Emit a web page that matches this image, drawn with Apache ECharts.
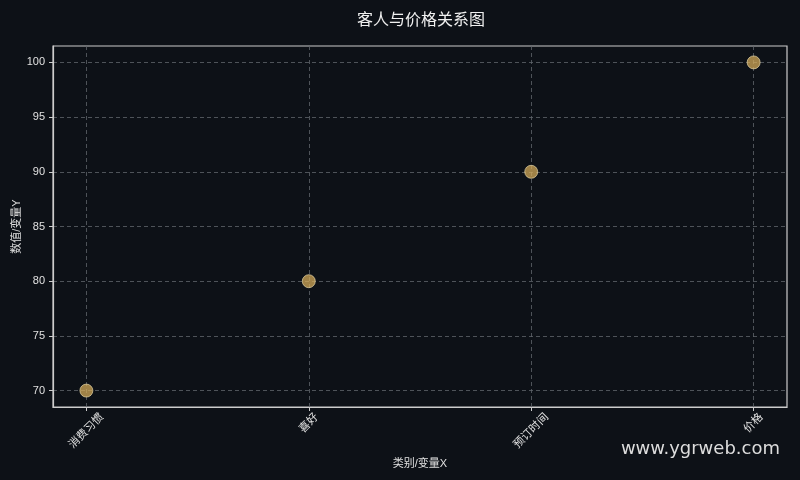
<!DOCTYPE html>
<html>
<head>
<meta charset="utf-8">
<script src="https://cdn.jsdelivr.net/npm/echarts@6/dist/echarts.min.js"></script>
<style>
  html, body { margin: 0; padding: 0; background: #0d1117; }
  #chart { width: 800px; height: 480px; }
</style>
</head>
<body>
<div id="chart"></div>
<script>
var categories = ['消费习惯', '喜好', '预订时间', '价格'];
var values = [70, 80, 90, 100];
var yTicks = [70, 75, 80, 85, 90, 95, 100];

var myChart = echarts.init(document.getElementById('chart'));
var font = '"Liberation Sans", "Noto Sans CJK SC", sans-serif';

var points = [];
for (var i = 0; i < values.length; i++) {
    points.push([i, values[i]]);
}

var option = {
    backgroundColor: '#0d1117',
    animation: false,
    title: {
        text: '客人与价格关系图',
        left: 416,
        top: 8,
        textAlign: 'center',
        textStyle: { color: '#f0f0f0', fontSize: 16, fontWeight: 'normal', fontFamily: font }
    },
    grid: {
        left: 53, right: 13, top: 46, bottom: 73,
        outerBoundsMode: 'none',
        show: true, borderColor: '#cccccc', borderWidth: 1.2, backgroundColor: 'transparent'
    },
    xAxis: {
        type: 'value',
        min: -0.15,
        max: 3.15,
        name: '类别/变量X',
        nameLocation: 'middle',
        nameGap: 51,
        nameMoveOverlap: false,
        nameTextStyle: { color: '#e0e0e0', fontSize: 11, fontFamily: font },
        axisLine: { onZero: false, lineStyle: { color: '#cccccc', width: 1.2 } },
        axisTick: { show: true, length: 4, customValues: [0, 1, 2, 3], lineStyle: { color: '#cccccc' } },
        axisLabel: {
            customValues: [0, 1, 2, 3],
            rotate: 45,
            align: 'center',
            verticalAlign: 'middle',
            color: '#e0e0e0',
            fontSize: 11,
            fontFamily: font,
            margin: 24,
            formatter: function (v) {
                var t = categories[Math.round(v)];
                return t.length > 2 ? '{l|' + t + '}' : '{s|' + t + '}';
            },
            rich: {
                l: { color: '#e0e0e0', fontSize: 11, fontFamily: font },
                s: { color: '#e0e0e0', fontSize: 11, fontFamily: font, padding: [0, 0, 11, 11] }
            }
        },
        splitLine: { show: true, lineStyle: { color: '#60656b', type: [4, 3], width: 0.8 } }
    },
    yAxis: {
        type: 'value',
        min: 68.5,
        max: 101.5,
        name: '数值/变量Y',
        nameLocation: 'middle',
        nameGap: 31,
        nameMoveOverlap: false,
        nameTextStyle: { color: '#e0e0e0', fontSize: 11, fontFamily: font },
        axisLine: { show: true, onZero: false, lineStyle: { color: '#cccccc', width: 1.2 } },
        axisTick: { show: true, length: 4, customValues: yTicks, lineStyle: { color: '#cccccc' } },
        axisLabel: { customValues: yTicks, color: '#e0e0e0', fontSize: 11, fontFamily: font, margin: 8 },
        splitLine: { show: true, lineStyle: { color: '#60656b', type: [4, 3], width: 0.8 } }
    },
    graphic: [{
        type: 'text',
        right: 20,
        top: 440,
        style: { text: 'www.ygrweb.com', fill: '#dddddd', fontSize: 18, fontFamily: '"DejaVu Sans", sans-serif' }
    }],
    series: [{
        type: 'scatter',
        data: points,
        symbolSize: 13,
        itemStyle: { color: 'rgba(218, 175, 90, 0.9)', borderColor: '#f0e0b0', borderWidth: 0.8 }
    }]
};
myChart.setOption(option);
</script>
</body>
</html>
